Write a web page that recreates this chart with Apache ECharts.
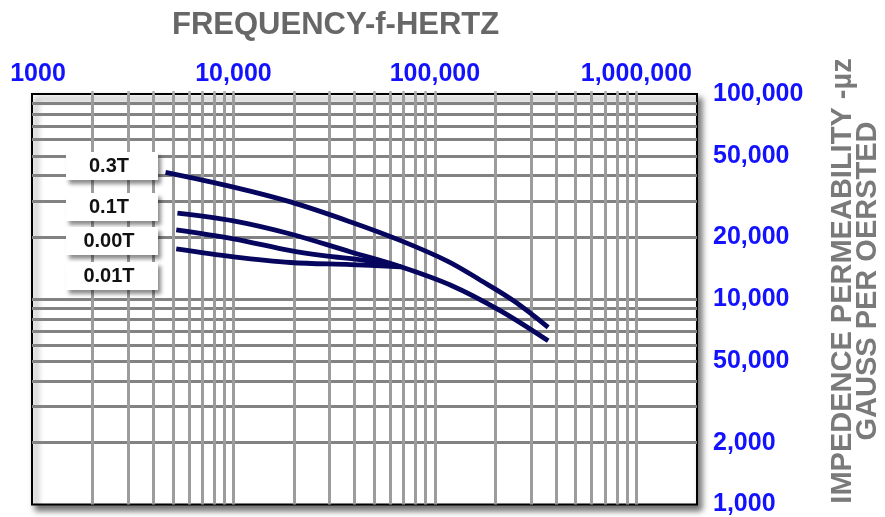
<!DOCTYPE html>
<html>
<head>
<meta charset="utf-8">
<script src="https://cdn.jsdelivr.net/npm/echarts@6/dist/echarts.min.js"></script>
<style>
  html, body { margin: 0; padding: 0; background: #fff; }
  #chart { width: 885px; height: 517px; }
</style>
</head>
<body>
<div id="chart"></div>
<script>
// Log-log plot: impedance permeability vs frequency for four flux levels.

const FREQ_LABELS = [1000, 10000, 100000, 1000000];
const PERM_LABELS = [1000, 2000, 5000, 10000, 20000, 50000, 100000];
// the original sheet prints "50,000" at the 5,000 line; kept as printed
const PERM_LABEL_TEXT = ['1,000', '2,000', '50,000', '10,000', '20,000', '50,000', '100,000'];

const FREQ_GRID = [
  2000, 3000, 4000, 5000, 6000, 7000, 8000, 9000, 10000,
  20000, 30000, 40000, 50000, 60000, 70000, 80000, 90000, 100000,
  200000, 300000, 400000, 500000, 600000, 700000, 800000, 900000, 1000000
];
const PERM_GRID = [
  2000, 3000, 4000, 5000, 6000, 7000, 8000, 9000, 10000,
  20000, 30000, 40000, 50000, 60000, 70000, 80000, 90000
];

const CURVE_NAMES = ['0.3T', '0.1T', '0.00T', '0.01T'];
// [frequency Hz, permeability]
const curve03T = [[4600, 41500], [10000, 35200], [19200, 29800], [38200, 23800], [67700, 19300],
  [116000, 15300], [169000, 12350], [247000, 9800], [365000, 7300]];
const curve01T = [[5270, 26300], [10000, 24100], [19200, 20800], [38200, 17000], [67700, 14400],
  [120000, 11700], [213000, 8750], [365000, 6270]];
const curve000T = [[5200, 21800], [10000, 19700], [19200, 17250], [28000, 16300], [46400, 15400],
  [67700, 14400]];
const curve001T = [[5200, 17600], [10000, 16100], [19200, 15100], [38200, 14750], [67700, 14400]];
const CURVES = [curve03T, curve01T, curve000T, curve001T];

// legend boxes at left of the curves: top edge of each box
const BOX_TOPS = [152, 193, 227, 262];

const FONT = '"Liberation Sans", Arial, sans-serif';
const BLUE = '#1212ff';
const NAVY = '#06065f';

const chart = echarts.init(document.getElementById('chart'));

chart.setOption({
  animation: false,
  backgroundColor: '#fff',
  title: {
    text: 'FREQUENCY-f-HERTZ',
    left: 167,
    top: 5,
    textStyle: { fontFamily: FONT, fontSize: 31, fontWeight: 'bold', color: '#676767' },
  },
  grid: {
    left: 32, right: 188, top: 94, bottom: 10,
    show: true,
    backgroundColor: '#fff',
    borderColor: '#000',
    borderWidth: 2,
    shadowColor: 'rgba(0,0,0,0.55)',
    shadowBlur: 6,
    shadowOffsetX: 4,
    shadowOffsetY: 5,
  },
  xAxis: {
    type: 'log',
    logBase: 10,
    min: 1000,
    max: 2000000,
    position: 'top',
    axisLine: { show: false },
    axisTick: { show: true, length: 3, customValues: FREQ_GRID, lineStyle: { color: '#b0b0b0', width: 2.5 } },
    splitLine: { show: true, lineStyle: { color: '#9c9c9c', width: 3 } },
    axisLabel: {
      customValues: FREQ_LABELS,
      margin: 7,
      fontFamily: FONT, fontSize: 25, fontWeight: 'bold', color: BLUE,
      formatter: v => {
        const n = Math.round(v);
        return n === 1000 ? '{first|1000}' : n.toLocaleString('en-US');
      },
      rich: {
        first: { fontFamily: FONT, fontSize: 25, fontWeight: 'bold', color: BLUE, padding: [0, 0, 0, 12] },
      },
    },
  },
  yAxis: {
    type: 'log',
    logBase: 10,
    min: 1000,
    max: 100000,
    position: 'right',
    axisLine: { show: false },
    axisTick: { show: false, customValues: PERM_GRID },
    splitLine: { show: true, lineStyle: { color: '#828282', width: 3 } },
    axisLabel: {
      customValues: PERM_LABELS,
      margin: 16,
      fontFamily: FONT, fontSize: 25, fontWeight: 'bold', color: BLUE,
      formatter: v => {
        const i = PERM_LABELS.indexOf(Math.round(v));
        return i >= 0 ? PERM_LABEL_TEXT[i] : '';
      },
    },
  },
  series: CURVES.map((data, i) => ({
    name: CURVE_NAMES[i],
    type: 'line',
    data,
    smooth: 0.35,
    symbol: 'none',
    z: 3,
    lineStyle: { color: NAVY, width: 4.8, cap: 'butt' },
  })),
  graphic: [
    ...CURVE_NAMES.map((name, i) => ({
      type: 'group',
      left: 66,
      top: BOX_TOPS[i],
      z: 100,
      children: [
        {
          type: 'rect',
          z: 100,
          shape: { x: 0, y: 0, width: 92, height: 28 },
          style: {
            fill: '#fff',
            shadowColor: 'rgba(0,0,0,0.45)',
            shadowBlur: 4,
            shadowOffsetX: 3,
            shadowOffsetY: 4,
          },
        },
        {
          type: 'text',
          z: 101,
          x: 43, y: 14,
          style: {
            text: name,
            font: `bold 20px ${FONT}`,
            fill: '#111',
            align: 'center',
            verticalAlign: 'middle',
          },
        },
      ],
    })),
    {
      type: 'text',
      x: 855,
      y: 281,
      rotation: Math.PI / 2,
      z: 100,
      style: {
        text: 'IMPEDENCE PERMEABILITY -µz\nGAUSS PER OERSTED',
        font: `bold 29px ${FONT}`,
        lineHeight: 25,
        fill: '#7a7a7a',
        align: 'center',
        verticalAlign: 'middle',
      },
    },
  ],
});
</script>
</body>
</html>
